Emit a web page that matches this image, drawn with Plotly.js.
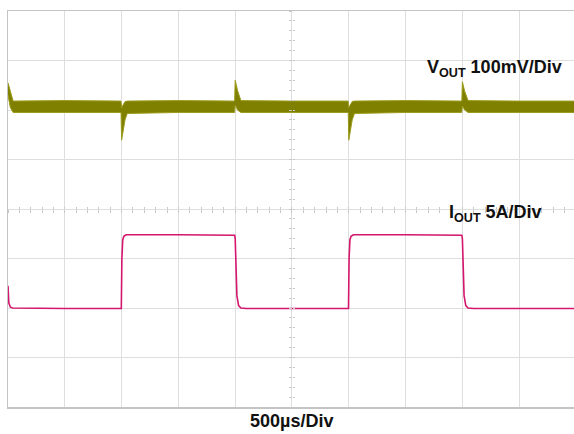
<!DOCTYPE html>
<html>
<head>
<meta charset="utf-8">
<script src="https://cdn.plot.ly/plotly-3.0.1.min.js"></script>
<style>html,body{margin:0;padding:0;background:#fff;}#chart{width:574px;height:434px;}</style>
</head>
<body>
<div id="chart"></div>
<script>
// Time in divisions (500 µs/Div), amplitude in divisions
const vTime = [0, 0.04, 0.09, 1.0, 1.99, 2.0, 2.02, 2.06, 2.1, 3.0, 3.99, 4.0, 4.04, 4.1, 5.0, 5.99, 6.0, 6.02, 6.06, 6.1, 7.0, 7.99, 8.0, 8.04, 8.1, 9.0, 10.0];
const vTop  = [2.55, 2.38, 2.18, 2.19, 2.18, 2.05, 2.10, 2.17, 2.18, 2.19, 2.18, 2.60, 2.40, 2.19, 2.18, 2.18, 2.05, 2.10, 2.17, 2.18, 2.19, 2.18, 2.57, 2.38, 2.19, 2.18, 2.18];
const vBot  = [2.30, 2.05, 1.95, 1.95, 1.95, 1.39, 1.55, 1.80, 1.93, 1.95, 1.95, 2.10, 2.00, 1.95, 1.95, 1.95, 1.39, 1.55, 1.80, 1.93, 1.95, 1.95, 2.08, 2.00, 1.95, 1.95, 1.95];

const iTime = [0, 0.015, 0.04, 0.08, 1.0, 1.995, 2.005, 2.02, 2.04, 2.08, 3.0, 3.99, 4.0, 4.01, 4.03, 4.06, 4.1, 4.2, 5.0, 5.995, 6.005, 6.02, 6.04, 6.08, 7.0, 7.99, 8.0, 8.01, 8.03, 8.06, 8.1, 8.2, 10.0];
const iVal  = [-1.55, -1.9, -1.98, -2.0, -2.01, -2.01, -1.0, -0.62, -0.55, -0.52, -0.52, -0.53, -0.6, -1.2, -1.75, -1.95, -2.0, -2.01, -2.01, -2.01, -1.0, -0.62, -0.55, -0.52, -0.52, -0.53, -0.6, -1.2, -1.75, -1.95, -2.0, -2.01, -2.01];

const labelV = "V<sub>OUT</sub> 100mV/Div";
const labelI = "I<sub>OUT</sub> 5A/Div";
const labelX = "500µs/Div";

const xMax = 9.965;
const gridC = '#dedede';
const borderC = '#c4c4c4';
const font = 'Liberation Sans, Arial, sans-serif';

const traces = [
  {x: vTime, y: vBot, mode: 'lines', line: {color: '#9c9c1c', width: 1}, hoverinfo: 'skip', showlegend: false},
  {x: vTime, y: vTop, mode: 'lines', fill: 'tonexty', fillcolor: '#808000', line: {color: '#9c9c1c', width: 1}, hoverinfo: 'skip', showlegend: false},
  {x: iTime, y: iVal, mode: 'lines', line: {color: '#d4166e', width: 1.6}, hoverinfo: 'skip', showlegend: false},
  {x: [], y: [], xaxis: 'x2', yaxis: 'y', showlegend: false},
  {x: [], y: [], xaxis: 'x3', yaxis: 'y', showlegend: false},
  {x: [], y: [], xaxis: 'x', yaxis: 'y2', showlegend: false},
  {x: [], y: [], xaxis: 'x', yaxis: 'y3', showlegend: false}
];

const tickAxX = (side) => ({overlaying: 'x', anchor: 'free', position: 0.5, range: [0, xMax], showgrid: false, zeroline: false, showline: false, showticklabels: false, ticks: side, ticklen: 2.5, tickwidth: 1, tickcolor: '#c8c8c8', tick0: 0, dtick: 0.2});
const tickAxY = (side) => ({overlaying: 'y', anchor: 'free', position: 5 / xMax, range: [-4, 4], showgrid: false, zeroline: false, showline: false, showticklabels: false, ticks: side, ticklen: 2.5, tickwidth: 1, tickcolor: '#c8c8c8', tick0: 0, dtick: 0.2});

const layout = {
  width: 574, height: 434,
  margin: {l: 8, r: 0, t: 11, b: 27, pad: 0},
  paper_bgcolor: '#ffffff', plot_bgcolor: '#ffffff',
  showlegend: false,
  xaxis: {range: [0, xMax], dtick: 1, tick0: 0, showgrid: true, gridcolor: gridC, gridwidth: 1, zeroline: false, showline: true, linecolor: borderC, linewidth: 1.5, mirror: true, showticklabels: false, ticks: ''},
  yaxis: {range: [-4, 4], dtick: 1, tick0: 0, showgrid: true, gridcolor: gridC, gridwidth: 1, zeroline: false, showline: true, linecolor: borderC, linewidth: 1.5, mirror: false, showticklabels: false, ticks: ''},
  xaxis2: tickAxX('outside'),
  xaxis3: tickAxX('inside'),
  yaxis2: tickAxY('outside'),
  yaxis3: tickAxY('inside'),
  annotations: [
    {xref: 'paper', yref: 'paper', x: (425 - 8) / 566, y: (407 - 68) / 396, xanchor: 'left', yanchor: 'middle', text: '<b>' + labelV + '</b>', showarrow: false, font: {family: font, size: 18, color: '#111'}},
    {xref: 'paper', yref: 'paper', x: (447 - 8) / 566, y: (407 - 213) / 396, xanchor: 'left', yanchor: 'middle', text: '<b>' + labelI + '</b>', showarrow: false, font: {family: font, size: 18, color: '#111'}},
    {xref: 'paper', yref: 'paper', x: (291 - 8) / 566, y: (407 - 421) / 396, xanchor: 'center', yanchor: 'middle', text: '<b>' + labelX + '</b>', showarrow: false, font: {family: font, size: 18, color: '#111'}}
  ]
};

Plotly.newPlot('chart', traces, layout, {displayModeBar: false, staticPlot: true});
</script>
</body>
</html>
